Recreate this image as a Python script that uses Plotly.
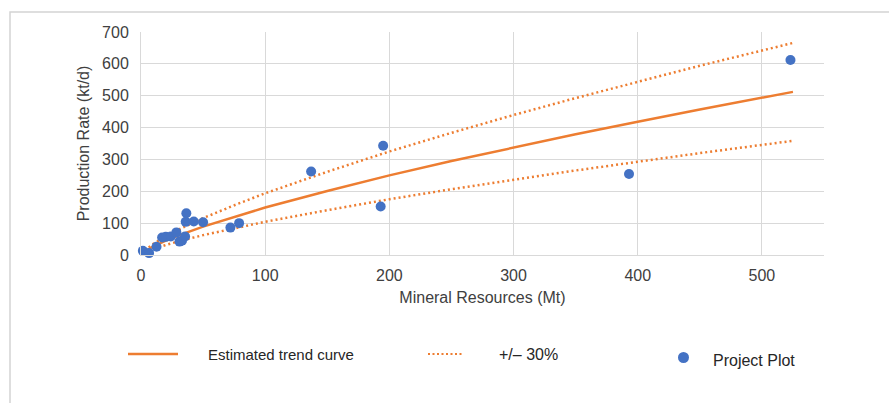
import plotly.graph_objects as go

# Project data: mineral resources (Mt) vs production rate (kt/d)
resources = [1.5, 6.5, 12.5, 17, 20, 24, 28.5, 31, 33, 35.5, 36.5, 36, 42.5, 50,
             72, 79, 137, 193, 195, 393, 523]
production = [13, 6, 26, 55, 57, 58, 71, 42, 45, 58, 131, 104, 105, 103,
              86, 100, 262, 152, 343, 254, 612]

# Estimated trend curve
trend_x = [3, 10, 20, 30, 50, 75, 100, 150, 200, 250, 300, 350, 400, 450, 525]
trend_y = [11, 27, 45, 61, 89, 120, 149, 201, 250, 295, 338, 379, 418, 457, 512]

band = 0.30
upper_y = [v * (1 + band) for v in trend_y]
lower_y = [v * (1 - band) for v in trend_y]

x_ticks = [0, 100, 200, 300, 400, 500]
y_ticks = [0, 100, 200, 300, 400, 500, 600, 700]

ORANGE = "#ED7D31"
BLUE = "#4472C4"
GRID = "#D9D9D9"
TEXT = "#404040"
FONT = "Liberation Sans, Arial, sans-serif"

fig = go.Figure()
fig.add_trace(go.Scatter(x=trend_x, y=upper_y, mode="lines",
                         line=dict(color=ORANGE, width=2.5, dash="2px,3px"),
                         name="+/\u2013 30%"))
fig.add_trace(go.Scatter(x=trend_x, y=lower_y, mode="lines",
                         line=dict(color=ORANGE, width=2.5, dash="2px,3px"),
                         showlegend=False))
fig.add_trace(go.Scatter(x=trend_x, y=trend_y, mode="lines",
                         line=dict(color=ORANGE, width=2.5),
                         name="Estimated trend curve"))
fig.add_trace(go.Scatter(x=resources, y=production, mode="markers",
                         marker=dict(color=BLUE, size=10), cliponaxis=False,
                         name="Project Plot"))

# Plot area geometry (pixels) used to place the hand-built legend
L, R, T, B = 141, 824, 32, 255
W, H = R - L, B - T


def px(x):
    return (x - L) / W


def py(y):
    return (B - y) / H


shapes = [
    # outer frame
    dict(type="rect", xref="paper", yref="paper",
         x0=px(10), x1=px(905), y0=py(12), y1=py(420),
         line=dict(color="#D4D4D4", width=1.5), layer="below"),
    # legend samples
    dict(type="line", xref="paper", yref="paper",
         x0=px(128), x1=px(178), y0=py(354), y1=py(354),
         line=dict(color=ORANGE, width=2.5)),
    dict(type="line", xref="paper", yref="paper",
         x0=px(428), x1=px(462), y0=py(354), y1=py(354),
         line=dict(color=ORANGE, width=2, dash="2px,2.5px")),
    dict(type="circle", xref="paper", yref="paper",
         x0=px(678), x1=px(689), y0=py(352), y1=py(363),
         fillcolor=BLUE, line=dict(color=BLUE, width=0)),
]

annotations = [
    dict(text="Estimated trend curve", x=px(206), y=py(354), xref="paper", yref="paper",
         xanchor="left", yanchor="middle", showarrow=False,
         font=dict(family=FONT, size=15, color="#262626")),
    dict(text="+/\u2013 30%", x=px(497), y=py(354), xref="paper", yref="paper",
         xanchor="left", yanchor="middle", showarrow=False,
         font=dict(family=FONT, size=16, color="#262626")),
    dict(text="Project Plot", x=px(711), y=py(360), xref="paper", yref="paper",
         xanchor="left", yanchor="middle", showarrow=False,
         font=dict(family=FONT, size=16, color="#262626")),
]

fig.update_layout(
    width=889, height=403,
    margin=dict(l=L, r=889 - R, t=T, b=403 - B),
    paper_bgcolor="white", plot_bgcolor="white",
    showlegend=False,
    font=dict(family=FONT, size=16, color=TEXT),
    shapes=shapes,
    annotations=annotations,
    xaxis=dict(range=[0, 550], tickvals=x_ticks, showgrid=True, gridcolor=GRID,
               gridwidth=1, zeroline=False, showline=True, linecolor=GRID,
               ticks="", ticklabelstandoff=6, tickfont=dict(size=16, color=TEXT),
               title=dict(text="Mineral Resources (Mt)", standoff=8,
                          font=dict(size=16, color=TEXT))),
    yaxis=dict(range=[0, 700], tickvals=y_ticks, showgrid=True, gridcolor=GRID,
               gridwidth=1, zeroline=False, showline=True, linecolor=GRID,
               ticks="", ticklabelstandoff=8, tickfont=dict(size=16, color=TEXT),
               title=dict(text="Production Rate (kt/d)", standoff=8,
                          font=dict(size=16, color=TEXT))),
)

fig.write_html("out.html")
